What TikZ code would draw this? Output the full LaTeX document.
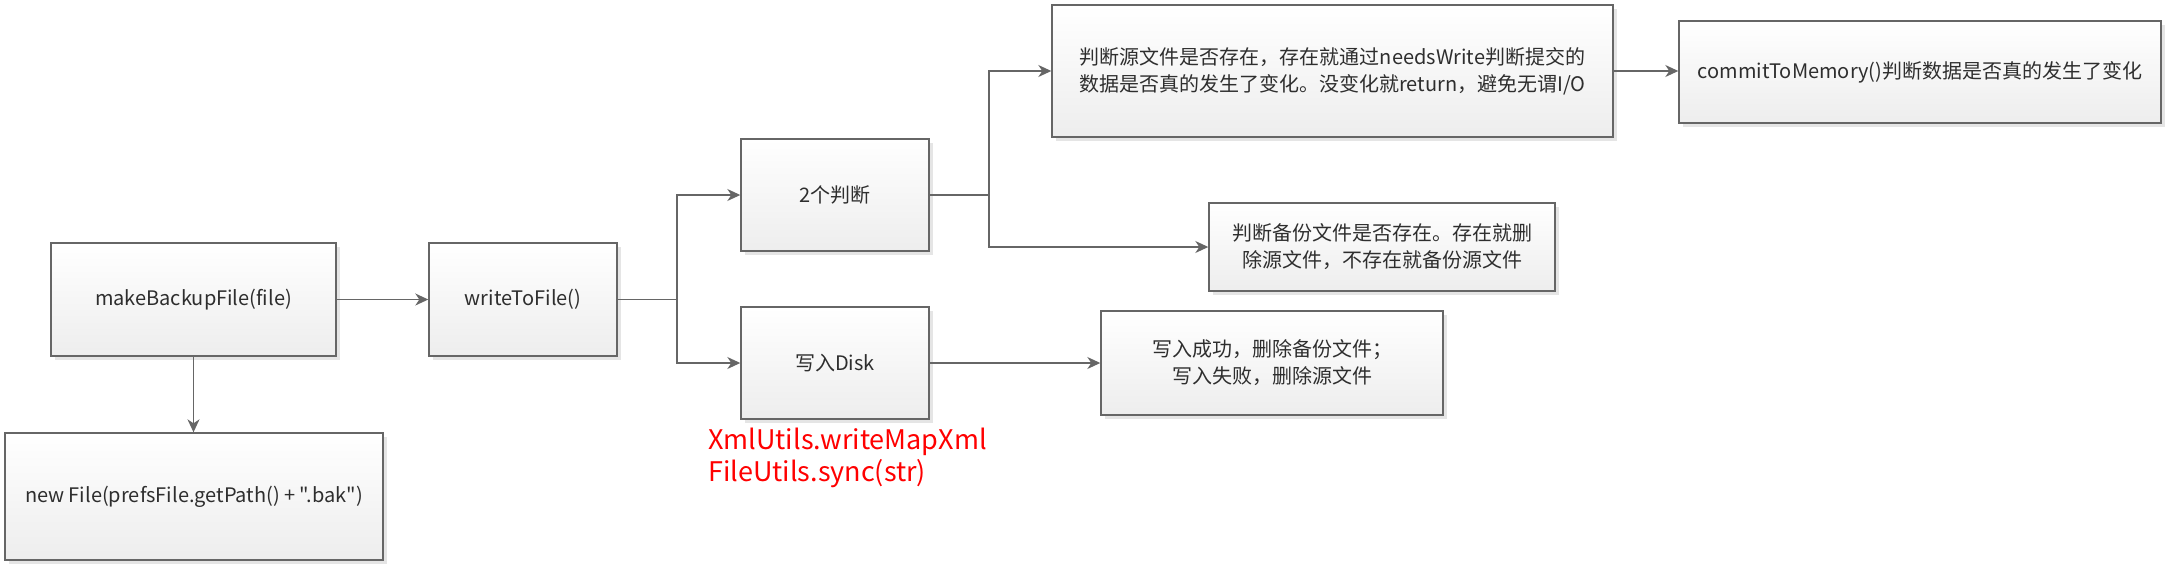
\documentclass[tikz,border=0pt]{standalone}
\usepackage{fontspec}
\setmainfont[Ligatures=NoCommon,Mapping=]{Noto Sans CJK SC}
\usetikzlibrary{arrows.meta,shadows}
\definecolor{boxline}{HTML}{666666}
\definecolor{boxtext}{HTML}{2E2E2E}
\definecolor{redtext}{HTML}{FF0000}
\tikzset{
  box/.style={draw=boxline, line width=1.4pt, top color=white, bottom color=black!7,
    general shadow={fill=black!10, shadow xshift=4pt, shadow yshift=-4pt},
    align=center, inner sep=0pt, text=boxtext,
    font=\fontsize{20}{27}\selectfont},
  conn/.style={draw=boxline, line width=1.5pt},
  arr/.style={conn, -{Stealth[length=13pt,width=12pt,inset=4pt]}},
}
\begin{document}
\begin{tikzpicture}[x=1pt,y=-1pt]
\useasboundingbox (0,0) rectangle (2166,566);
\node[box, minimum width=285pt, minimum height=113pt] (mb) at (193.5,299.5) {makeBackupFile(file)};
\node[box, minimum width=378pt, minimum height=127pt] (nf) at (194,496.5) {new File(prefsFile.getPath() + \char34.bak\char34)};
\node[box, minimum width=188pt, minimum height=113pt] (wf) at (523,299.5) {writeToFile()};
\node[box, minimum width=188pt, minimum height=112pt] (pd) at (835,195) {2个判断};
\node[box, minimum width=188pt, minimum height=112pt] (wd) at (835,363) {写入Disk};
\node[box, minimum width=561pt, minimum height=132pt] (j1) at (1332.5,71) {判断源文件是否存在，存在就通过needsWrite判断提交的\\数据是否真的发生了变化。没变化就return，避免无谓I/O};
\node[box, minimum width=482pt, minimum height=102pt] (cm) at (1920,72) {commitToMemory()判断数据是否真的发生了变化};
\node[box, minimum width=346pt, minimum height=88pt] (j2) at (1382,247) {判断备份文件是否存在。存在就删\\除源文件，不存在就备份源文件};
\node[box, minimum width=342pt, minimum height=104pt] (ws) at (1272,363) {写入成功，删除备份文件；\\写入失败，删除源文件};
\node[anchor=north west, align=left, inner sep=0pt, text=redtext,
  font=\fontsize{27}{32}\selectfont] (red) at (708,428) {XmlUtils.writeMapXml\\FileUtils.sync(str)};
\coordinate (b1) at (677,299.5);
\coordinate (b2) at (989,195);
\draw[arr] (mb.east) -- (wf.west);
\draw[arr] (mb.south) -- (mb.south |- nf.north);
\draw[conn] (wf.east) -- (b1);
\draw[arr] (b1) |- (pd.west);
\draw[arr] (b1) |- (wd.west);
\draw[conn] (pd.east) -- (b2);
\draw[arr] (b2) |- (j1.west);
\draw[arr] (b2) |- (j2.west);
\draw[arr] (j1.east) -- (j1.east -| cm.west);
\draw[arr] (wd.east) -- (ws.west);
\end{tikzpicture}
\end{document}
